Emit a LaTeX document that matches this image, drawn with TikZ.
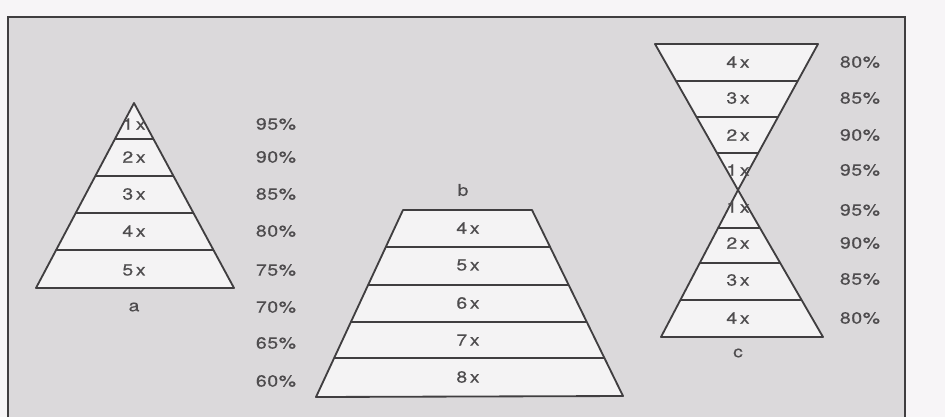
\documentclass[tikz,border=0pt]{standalone}
\usepackage{fontspec}
\setmainfont{TeX Gyre Heros}[FakeStretch=1.2,LetterSpace=4,FakeBold=0.4]
\usepackage{tikz}
\usetikzlibrary{calc}
\definecolor{scangray}{RGB}{219,217,219}
\definecolor{paperwhite}{RGB}{247,245,247}
\definecolor{layerfill}{RGB}{244,243,244}
\definecolor{inkgray}{RGB}{64,62,64}
\definecolor{textgray}{RGB}{78,76,78}
\tikzset{
  layershape/.style={draw=inkgray,line width=1.3pt,line join=round},
  layerline/.style={draw=inkgray,line width=1pt},
  factor/.style={text=textgray,font=\fontsize{11.5}{13}\selectfont,inner sep=0pt},
  share/.style={factor},
  caption/.style={factor}
}

\begin{document}
\begin{tikzpicture}[x=0.25mm,y=-0.25mm]
  \useasboundingbox (0,0) rectangle (945,417);
  \fill[paperwhite] (0,0) rectangle (945,417);
  \fill[scangray] (8,17) rectangle (905,417);
  \draw[inkgray,line width=1.1pt] (8,417) -- (8,17) -- (905,17) -- (905,417);

  % a: pyramid
  \coordinate (aT) at (134,103);
  \coordinate (aL) at (36,288);
  \coordinate (aR) at (234,288);
  \begin{scope}
    \clip (aT) -- (aL) -- (aR) -- cycle;
    \fill[layerfill] (aT) -- (aL) -- (aR) -- cycle;
    \foreach \y in {139,176,213,250} \draw[layerline] (0,\y) -- (300,\y);
  \end{scope}
  \draw[layershape] (aT) -- (aL) -- (aR) -- cycle;
  \foreach \t/\y [count=\i] in {1/124,2/157,3/194,4/231,5/270}
    \node[factor] (a\i) at (134,\y) {\t\,x};
  \node[caption] (acap) at (134,307) {a};
  \foreach \p/\y [count=\i] in {95/124,90/157,85/194,80/231,75/270,70/307,65/343,60/381}
    \node[share] (ap\i) at (276,\y) {\p\%};

  % b: trapezoid
  \coordinate (bTL) at (403,210);
  \coordinate (bTR) at (532,210);
  \coordinate (bBR) at (623,396);
  \coordinate (bBL) at (316,397);
  \begin{scope}
    \clip (bTL) -- (bTR) -- (bBR) -- (bBL) -- cycle;
    \fill[layerfill] (bTL) -- (bTR) -- (bBR) -- (bBL) -- cycle;
    \foreach \y in {247,285,322,358} \draw[layerline] (300,\y) -- (640,\y);
  \end{scope}
  \draw[layershape] (bTL) -- (bTR) -- (bBR) -- (bBL) -- cycle;
  \foreach \t/\y [count=\i] in {4/228,5/265,6/303,7/340,8/377}
    \node[factor] (b\i) at (468,\y) {\t\,x};
  \node[caption] (bcap) at (463,190) {b};

  % c: hourglass
  \coordinate (cTL) at (655,44);
  \coordinate (cTR) at (818,44);
  \coordinate (cX) at (738,190);
  \coordinate (cBL) at (661,337);
  \coordinate (cBR) at (823,337);
  \begin{scope}
    \clip (cTL) -- (cTR) -- (cX) -- cycle (cX) -- (cBR) -- (cBL) -- cycle;
    \fill[layerfill] (640,40) rectangle (840,340);
    \foreach \y in {81,117,153,228,263,300} \draw[layerline] (640,\y) -- (840,\y);
  \end{scope}
  \draw[layershape] (cTL) -- (cTR) -- (cX) -- cycle;
  \draw[layershape] (cX) -- (cBR) -- (cBL) -- cycle;
  \foreach \t/\y [count=\i] in {4/62,3/98,2/135,1/170,1/207,2/243,3/280,4/318}
    \node[factor] (c\i) at (738,\y) {\t\,x};
  \node[caption] (ccap) at (738,353) {c};
  \foreach \p/\y [count=\i] in {80/62,85/98,90/135,95/170,95/210,90/243,85/279,80/318}
    \node[share] (cp\i) at (860,\y) {\p\%};
\end{tikzpicture}
\end{document}
